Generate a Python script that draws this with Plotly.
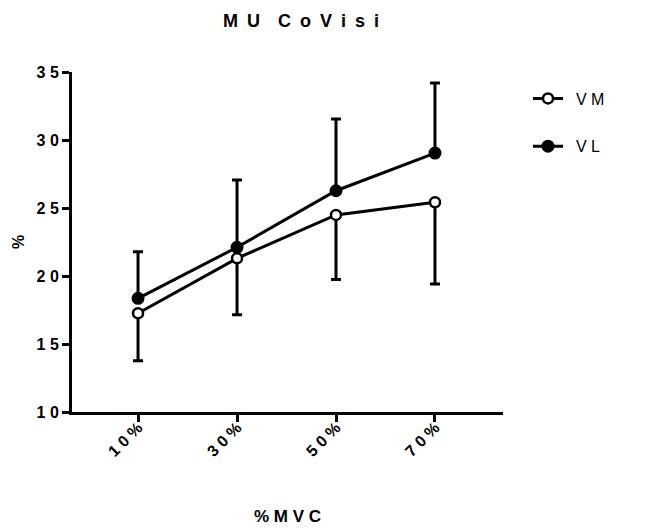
import plotly.graph_objects as go

SP = " "
EN = "\u2002"  # en space for the wide title spacing

categories = ["10%", "30%", "50%", "70%"]
vm_mean = [17.26, 21.3, 24.49, 25.42]
vm_err_lower = [3.5, 4.15, 4.75, 6.0]
vl_mean = [18.36, 22.11, 26.27, 29.04]
vl_err_upper = [3.43, 4.95, 5.27, 5.15]
y_ticks = [10, 15, 20, 25, 30, 35]


def spaced(s, sep=SP):
    return sep.join(list(s))


FONT = "Liberation Sans, Arial, sans-serif"
x_idx = list(range(len(categories)))

fig = go.Figure()
fig.add_trace(go.Scatter(
    x=x_idx, y=vl_mean, name=EN + spaced("VL"), mode="lines+markers",
    line=dict(color="black", width=3),
    marker=dict(symbol="circle", size=11, color="black", line=dict(color="black", width=2)),
    error_y=dict(type="data", symmetric=False, array=vl_err_upper, arrayminus=[0] * 4,
                 color="black", thickness=3, width=5),
    legendgroup="vl", legendrank=2,
))
fig.add_trace(go.Scatter(
    x=x_idx, y=vm_mean, name=EN + spaced("VM"), mode="lines+markers",
    line=dict(color="black", width=3),
    marker=dict(symbol="circle", size=10, color="white", line=dict(color="black", width=2.5)),
    error_y=dict(type="data", symmetric=False, array=[0] * 4, arrayminus=vm_err_lower,
                 color="black", thickness=3, width=5),
    legendgroup="vm", legendrank=1,
))

fig.update_layout(
    width=646, height=531,
    margin=dict(l=72, r=143, t=72, b=119, autoexpand=False),
    plot_bgcolor="white", paper_bgcolor="white",
    font=dict(family=FONT, color="black", size=15),
    title=dict(text=spaced("MU", EN) + EN + EN + spaced("CoVisi", EN), x=301 / 646, xanchor="center",
               y=1 - 21 / 531, yanchor="middle",
               font=dict(family=FONT, size=18, weight=700, color="black")),
    showlegend=True,
    legend=dict(x=1.058, y=0.972, xanchor="left", yanchor="top",
                font=dict(family=FONT, size=16, color="black"),
                tracegroupgap=24, traceorder="grouped", bgcolor="rgba(0,0,0,0)"),
    xaxis=dict(
        range=[-0.667, 3.687], tickmode="array", tickvals=x_idx,
        ticktext=[spaced(c) for c in categories], tickangle=-45,
        showline=True, linecolor="black", linewidth=3, ticks="outside",
        ticklen=7, tickwidth=3, tickcolor="black", showgrid=False, zeroline=False,
        ticklabelstandoff=-10, automargin=False,
        tickfont=dict(family=FONT, size=16, weight=700, color="black"),
        title=dict(text=spaced("%MVC"), standoff=52,
                   font=dict(family=FONT, size=17, weight=700, color="black")),
    ),
    yaxis=dict(
        range=[10, 35], tickmode="array", tickvals=y_ticks,
        ticktext=[spaced(str(v)) for v in y_ticks],
        showline=True, linecolor="black", linewidth=3, ticks="outside",
        ticklen=7, tickwidth=3, tickcolor="black", showgrid=False, zeroline=False,
        automargin=False,
        tickfont=dict(family=FONT, size=16, weight=700, color="black"),
        title=dict(text="%", standoff=8,
                   font=dict(family=FONT, size=16, weight=700, color="black")),
    ),
)

fig.write_html("out.html")
